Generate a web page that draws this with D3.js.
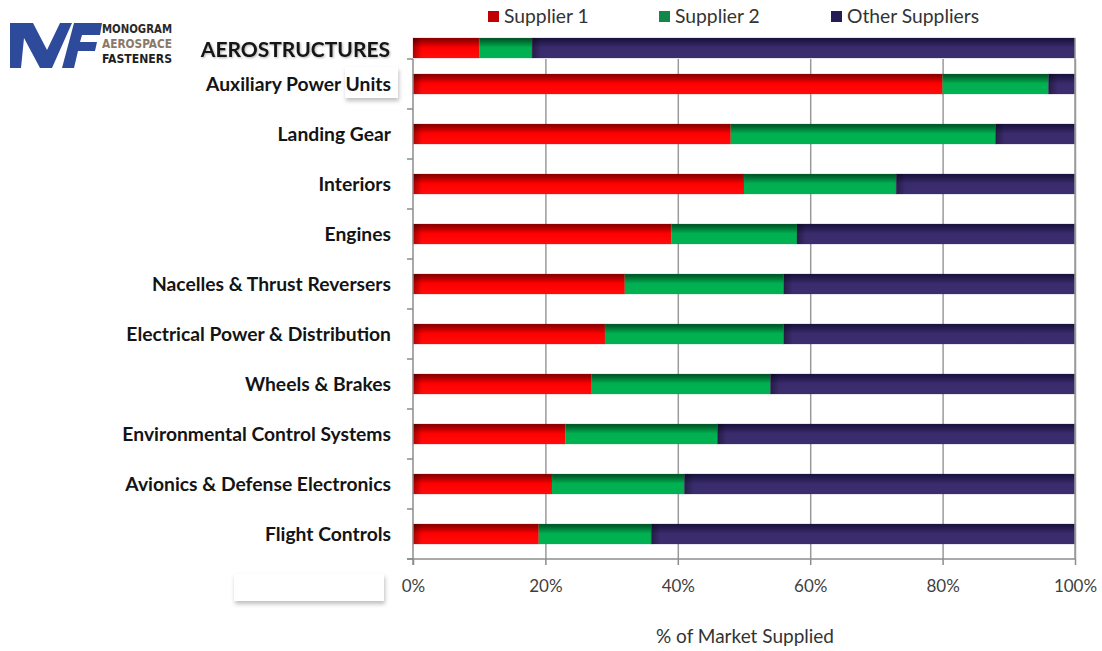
<!DOCTYPE html>
<html>
<head>
<meta charset="utf-8">
<script src="https://cdn.jsdelivr.net/npm/d3@7/dist/d3.min.js"></script>
<style>
  html, body { margin: 0; padding: 0; background: #fff; }
  svg { display: block; }
  text { font-family: Lato, "Open Sans", sans-serif; }
</style>
</head>
<body>
<svg id="chart" width="1102" height="651"></svg>
<script>
// Market share by aircraft system
const headerCategory = "AEROSTRUCTURES";
const headerSupplier1 = 10;
const headerSupplier2 = 8;
const headerOthers = 82;

const categories = [
  "Auxiliary Power Units",
  "Landing Gear",
  "Interiors",
  "Engines",
  "Nacelles & Thrust Reversers",
  "Electrical Power & Distribution",
  "Wheels & Brakes",
  "Environmental Control Systems",
  "Avionics & Defense Electronics",
  "Flight Controls"
];
const supplier1 = [80, 48, 50, 39, 32, 29, 27, 23, 21, 19];
const supplier2 = [16, 40, 23, 19, 24, 27, 27, 23, 20, 17];
const others    = [ 4, 12, 27, 42, 44, 44, 46, 54, 59, 64];

const seriesNames = ["Supplier 1", "Supplier 2", "Other Suppliers"];
const xTicks = [0, 20, 40, 60, 80, 100];
const xTitle = "% of Market Supplied";

const seriesStyle = [
  { id: "g-red",   top: "#7a0000", mid: "#ff0000", bottom: "#ff0c0c", legend: "#c00000", shade: true },
  { id: "g-green", top: "#004a22", mid: "#00b050", bottom: "#00b254", legend: "#12874a", shade: false },
  { id: "g-navy",  top: "#17113a", mid: "#3a2b6c", bottom: "#3b2d6e", legend: "#241c55", shade: true }
];

const svg = d3.select("#chart");
const defs = svg.append("defs");

seriesStyle.forEach(s => {
  const g = defs.append("linearGradient").attr("id", s.id)
    .attr("x1", 0).attr("y1", 0).attr("x2", 0).attr("y2", 1);
  g.append("stop").attr("offset", "0%").attr("stop-color", s.top);
  g.append("stop").attr("offset", "48%").attr("stop-color", s.mid);
  g.append("stop").attr("offset", "100%").attr("stop-color", s.bottom);
});
const lshade = defs.append("linearGradient").attr("id", "left-shade")
  .attr("x1", 0).attr("y1", 0).attr("x2", 1).attr("y2", 0);
lshade.append("stop").attr("offset", "0%").attr("stop-color", "#000").attr("stop-opacity", 0.35);
lshade.append("stop").attr("offset", "100%").attr("stop-color", "#000").attr("stop-opacity", 0);

const soft = defs.append("filter").attr("id", "soft-shadow")
  .attr("x", "-20%").attr("y", "-40%").attr("width", "140%").attr("height", "200%");
soft.append("feDropShadow").attr("dx", 1).attr("dy", 3).attr("stdDeviation", 2)
  .attr("flood-color", "#000").attr("flood-opacity", 0.25);

const textGlow = defs.append("filter").attr("id", "text-glow")
  .attr("x", "-10%").attr("y", "-30%").attr("width", "120%").attr("height", "160%");
textGlow.append("feDropShadow").attr("dx", 1).attr("dy", 1).attr("stdDeviation", 1.2)
  .attr("flood-color", "#000").attr("flood-opacity", 0.3);

// Scales
const x = d3.scaleLinear().domain([0, 100]).range([413, 1075]);
const y = d3.scaleBand().domain(categories).range([59, 559])
  .paddingInner(0.6).paddingOuter(0.3);
const yHead = d3.scaleBand().domain([headerCategory]).range([38, 58]);

// Decorative white panels
svg.append("rect").attr("x", 345).attr("y", 67).attr("width", 53).attr("height", 31)
  .attr("fill", "#fff").attr("filter", "url(#soft-shadow)");
svg.append("rect").attr("x", 234).attr("y", 574).attr("width", 150).attr("height", 27)
  .attr("fill", "#fff").attr("filter", "url(#soft-shadow)");

// Gridlines
const grid = svg.append("g").attr("transform", `translate(0,559)`)
  .call(d3.axisBottom(x).tickValues(xTicks.slice(1)).tickSize(-500).tickFormat(""));
grid.select(".domain").remove();
grid.selectAll(".tick line").attr("stroke", "#9a9a9a").attr("stroke-width", 1.5);

// Stacked rows
const rows = categories.map((c, i) => ({ cat: c, vals: [supplier1[i], supplier2[i], others[i]] }));
const stackRow = (vals) => {
  let acc = 0;
  return vals.map((v, k) => { const s = { k, x0: acc, x1: acc + v }; acc += v; return s; });
};

function drawRow(g, segs, yy, h) {
  segs.forEach(s => {
    g.append("rect")
      .attr("x", x(s.x0)).attr("y", yy)
      .attr("width", x(s.x1) - x(s.x0)).attr("height", h)
      .attr("fill", `url(#${seriesStyle[s.k].id})`)
      .attr("stroke", seriesStyle[s.k].mid).attr("stroke-opacity", 0.25).attr("stroke-width", 1);
    if (seriesStyle[s.k].shade) {
      g.append("rect")
        .attr("x", x(s.x0)).attr("y", yy)
        .attr("width", Math.min(9, x(s.x1) - x(s.x0))).attr("height", h)
        .attr("fill", "url(#left-shade)");
    }
  });
}

const bars = svg.append("g");
rows.forEach(r => drawRow(bars, stackRow(r.vals), y(r.cat), y.bandwidth()));
drawRow(bars, stackRow([headerSupplier1, headerSupplier2, headerOthers]),
  yHead(headerCategory), yHead.bandwidth());

// Right border of plot
svg.append("line").attr("x1", x(100)).attr("x2", x(100)).attr("y1", 38).attr("y2", 559)
  .attr("stroke", "#9a9a9a").attr("stroke-width", 1.5);

// Left axis with ticks at band boundaries
const axisColor = "#8c8c8c";
const leftAxis = svg.append("g");
leftAxis.append("line").attr("x1", x(0)).attr("x2", x(0)).attr("y1", 59).attr("y2", 565)
  .attr("stroke", axisColor).attr("stroke-width", 1.5);
const boundaries = d3.range(categories.length + 1).map(i => y.range()[0] + i * y.step());
leftAxis.selectAll("line.tk").data(boundaries).join("line").attr("class", "tk")
  .attr("x1", x(0) - 6).attr("x2", x(0)).attr("y1", d => d).attr("y2", d => d)
  .attr("stroke", axisColor).attr("stroke-width", 1.5);

// Bottom axis
const bottom = svg.append("g").attr("transform", "translate(0,559)")
  .call(d3.axisBottom(x).tickValues(xTicks).tickSize(6).tickPadding(15).tickFormat(d => d + "%"));
bottom.select(".domain").attr("stroke", axisColor).attr("stroke-width", 1.5)
  .attr("d", `M${x(0) - 6},0H${x(100)}`);
bottom.selectAll(".tick line").attr("stroke", axisColor).attr("stroke-width", 1.5);
bottom.selectAll(".tick text").attr("fill", "#3f3f3f").attr("font-size", 17)
  .style("font-family", "Lato, sans-serif");

svg.append("text").attr("x", 745).attr("y", 643).attr("text-anchor", "middle")
  .attr("font-size", 19).attr("fill", "#333").text(xTitle);

// Category labels
svg.append("g").selectAll("text").data(categories).join("text")
  .attr("x", 391).attr("y", d => y(d) + y.bandwidth() / 2)
  .attr("dy", "0.36em").attr("text-anchor", "end")
  .attr("font-size", 19.3).attr("font-weight", 700).attr("fill", "#141414")
  .text(d => d);

svg.append("text").attr("x", 390).attr("y", 57).attr("text-anchor", "end")
  .attr("font-size", 21).attr("font-weight", 700).attr("fill", "#141414")
  .attr("filter", "url(#text-glow)").text(headerCategory);

// Legend
const legendX = [488, 659, 831];
const legend = svg.append("g");
seriesNames.forEach((n, i) => {
  legend.append("rect").attr("x", legendX[i]).attr("y", 11).attr("width", 11).attr("height", 11)
    .attr("fill", seriesStyle[i].legend);
  legend.append("text").attr("x", legendX[i] + 16).attr("y", 23)
    .attr("font-size", 19.3).attr("fill", "#333").text(n);
});

// Company logo
const logo = svg.append("g");
logo.append("path").attr("fill", "#2d4a9b")
  .attr("d", "M10,68 L10,23 L33,23 L47,50 L60,23 L72,23 L52,68 L40,68 L24,38 L21,68 Z");
logo.append("path").attr("fill", "#2d4a9b")
  .attr("d", "M62,68 L74,23 L102,23 L100,35 L82,35 L80,42 L97,42 L95,51 L78,51 L74,68 Z");
const logoLines = [["MONOGRAM", "#2a2a2a", 33], ["AEROSPACE", "#8a7868", 48], ["FASTENERS", "#1e1e1e", 63]];
logoLines.forEach(([t, c, yy]) => {
  logo.append("text").attr("x", 102).attr("y", yy)
    .attr("font-size", 12.5).attr("font-weight", 700).attr("fill", c)
    .attr("textLength", 70).attr("lengthAdjust", "spacingAndGlyphs")
    .style("font-family", "'DejaVu Sans Condensed', 'DejaVu Sans', sans-serif")
    .text(t);
});
</script>
</body>
</html>
